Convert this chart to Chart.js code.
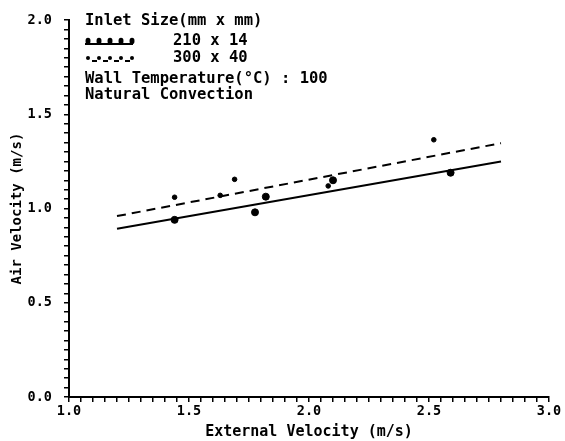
<!DOCTYPE html>
<html>
<head>
<meta charset="utf-8">
<script src="https://cdn.jsdelivr.net/npm/chart.js@4"></script>
<style>
  html, body { margin: 0; padding: 0; background: #fff; }
</style>
</head>
<body>
<canvas id="velChart" width="565" height="441"></canvas>
<script>
/* measured air velocity vs external velocity, two inlet sizes */
var extVel210 = [1.44, 1.775, 1.82, 2.10, 2.59];
var airVel210 = [0.94, 0.98, 1.063, 1.15, 1.19];
var extVel300 = [1.44, 1.63, 1.69, 2.08, 2.52];
var airVel300 = [1.06, 1.07, 1.155, 1.12, 1.365];

/* fitted lines, end points */
var fitX = [1.2, 2.8];
var fit210 = [0.893, 1.25];
var fit300 = [0.96, 1.347];

var legendLabels = ['210 x 14', '300 x 40'];

function pts(xs, ys) {
    return xs.map(function (x, i) { return {x: x, y: ys[i]}; });
}

function majorLabel(v) {
    var h = v * 2;
    return Math.abs(h - Math.round(h)) < 1e-6 ? v.toFixed(1) : '';
}

/* header text + symbol rows in the upper left */
var legendBox = {
    id: 'legendBox',
    afterDraw: function (chart) {
        var c = chart.ctx;
        c.save();
        c.fillStyle = '#000';
        c.strokeStyle = '#000';
        c.font = 'bold 15.5px "DejaVu Sans Mono"';
        c.textBaseline = 'middle';
        c.fillText('Inlet Size(mm x mm)', 85, 21);
        c.fillText(legendLabels[0], 173, 41);
        c.fillText(legendLabels[1], 173, 58);
        c.fillText('Wall Temperature(\u00B0C) : 100', 85, 79);
        c.fillText('Natural Convection', 85, 95);

        // solid row: big dots over a line
        c.lineWidth = 2;
        c.beginPath();
        c.moveTo(85, 44); c.lineTo(133, 44);
        c.stroke();
        for (var i = 0; i < 5; i++) {
            c.beginPath();
            c.ellipse(88 + i * 11, 41, 2.5, 3.2, 0, 0, Math.PI * 2);
            c.fill();
        }
        // dashed row: small dots with dashes
        for (var j = 0; j < 5; j++) {
            c.beginPath();
            c.arc(88 + j * 11, 58, 2, 0, Math.PI * 2);
            c.fill();
            if (j < 4) {
                c.beginPath();
                c.moveTo(92 + j * 11, 61); c.lineTo(97 + j * 11, 61);
                c.stroke();
            }
        }
        c.restore();
    }
};

var ctx = document.getElementById('velChart').getContext('2d');
var myChart = new Chart(ctx, {
    type: 'scatter',
    data: {
        datasets: [{
            label: legendLabels[0],
            data: pts(extVel210, airVel210),
            backgroundColor: '#000',
            borderColor: '#000',
            pointRadius: 3.5,
            showLine: false
        }, {
            label: legendLabels[1],
            data: pts(extVel300, airVel300),
            backgroundColor: '#000',
            borderColor: '#000',
            pointRadius: 2.3,
            showLine: false
        }, {
            label: 'fit 210',
            data: pts(fitX, fit210),
            borderColor: '#000',
            borderWidth: 2,
            pointRadius: 0,
            showLine: true
        }, {
            label: 'fit 300',
            data: pts(fitX, fit300),
            borderColor: '#000',
            borderWidth: 2,
            borderDash: [9, 6],
            pointRadius: 0,
            showLine: true
        }]
    },
    options: {
        responsive: false,
        animation: false,
        devicePixelRatio: 1,
        layout: { padding: { top: 14, right: 16, left: 0, bottom: 0 } },
        plugins: {
            legend: { display: false },
            tooltip: { enabled: false }
        },
        scales: {
            x: {
                type: 'linear',
                min: 1.0,
                max: 3.0,
                afterFit: function (s) { s.height = 44; },
                border: { display: true, color: '#000', width: 2 },
                grid: { drawOnChartArea: false, drawTicks: true, tickLength: 5, color: '#000', lineWidth: 1.5 },
                ticks: {
                    stepSize: 0.05,
                    autoSkip: false,
                    maxTicksLimit: 100,
                    maxRotation: 0,
                    padding: 1,
                    color: '#000',
                    font: { family: 'DejaVu Sans Mono', size: 13.5, weight: 'bold' },
                    callback: function (v) { return majorLabel(v); }
                },
                title: {
                    display: true,
                    text: 'External Velocity (m/s)',
                    color: '#000',
                    padding: { top: 0, bottom: 0 },
                    font: { family: 'DejaVu Sans Mono', size: 15, weight: 'bold' }
                }
            },
            y: {
                type: 'linear',
                min: 0,
                max: 2.0,
                afterFit: function (s) { s.width = 69; },
                border: { display: true, color: '#000', width: 2 },
                grid: { drawOnChartArea: false, drawTicks: true, tickLength: 5, color: '#000', lineWidth: 1.5 },
                ticks: {
                    stepSize: 0.05,
                    autoSkip: false,
                    maxTicksLimit: 100,
                    padding: 12,
                    color: '#000',
                    font: { family: 'DejaVu Sans Mono', size: 13.5, weight: 'bold' },
                    callback: function (v) { return majorLabel(v); }
                },
                title: {
                    display: true,
                    text: 'Air Velocity (m/s)',
                    color: '#000',
                    padding: { top: 9, bottom: 0 },
                    font: { family: 'DejaVu Sans Mono', size: 14, weight: 'bold' }
                }
            }
        }
    },
    plugins: [legendBox]
});
</script>
</body>
</html>
